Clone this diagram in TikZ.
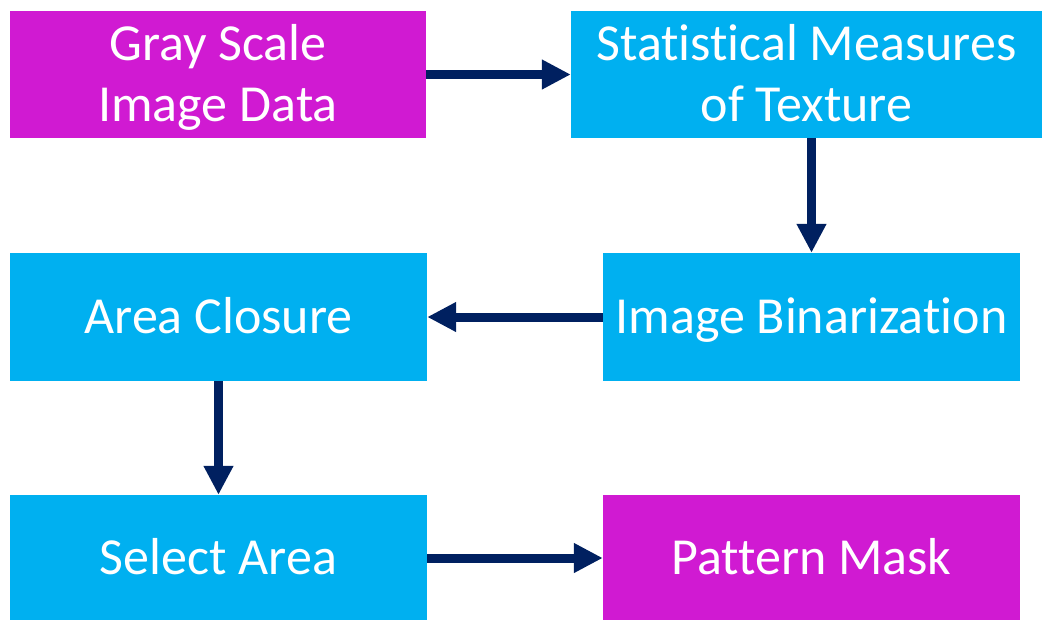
\documentclass[tikz,border=0pt]{standalone}
\usepackage{fontspec}
\setmainfont[Ligatures=NoCommon]{Carlito}
\usetikzlibrary{arrows.meta}
\definecolor{boxmag}{RGB}{208,26,210}
\definecolor{boxcyan}{RGB}{0,176,240}
\definecolor{arrownavy}{RGB}{0,32,96}
\begin{document}
\begin{tikzpicture}[x=1pt,y=-1pt,
  boxbase/.style={rectangle,inner sep=0pt,text=white,align=center,
    font=\fontsize{52}{61}\selectfont},
  oneline/.style={text height=47pt,text depth=13.5pt},
  twoline/.style={text height=108pt,text depth=13.5pt},
  magbox/.style={boxbase,fill=boxmag},
  cyanbox/.style={boxbase,fill=boxcyan},
  flow/.style={draw=arrownavy,line width=9pt,
    -{Triangle[length=29pt,width=28pt]},fill=arrownavy}]
\useasboundingbox (0,0) rectangle (1046,619);
\node[magbox,twoline,minimum width=416pt,minimum height=127pt] (gray) at (218,74.5) {Gray Scale\\Image Data};
\node[cyanbox,twoline,minimum width=471pt,minimum height=127pt] (stat) at (806.5,74.5) {Statistical Measures\\of Texture};
\node[cyanbox,oneline,minimum width=417pt,minimum height=128pt] (bin) at (811.5,317) {Image Binarization};
\node[cyanbox,oneline,minimum width=417pt,minimum height=128pt] (clos) at (218.5,317) {Area Closure};
\node[cyanbox,oneline,minimum width=417pt,minimum height=126pt] (sel) at (218.5,558) {Select Area};
\node[magbox,oneline,minimum width=417pt,minimum height=126pt] (mask) at (811.5,558) {Pattern Mask};
\draw[flow] (gray.east) -- (stat.west);
\draw[flow] (stat.south -| bin.north) -- (bin.north);
\draw[flow] (bin.west) -- (clos.east);
\draw[flow] (clos.south) -- (sel.north);
\draw[flow] (sel.east) -- (mask.west);
\end{tikzpicture}
\end{document}
